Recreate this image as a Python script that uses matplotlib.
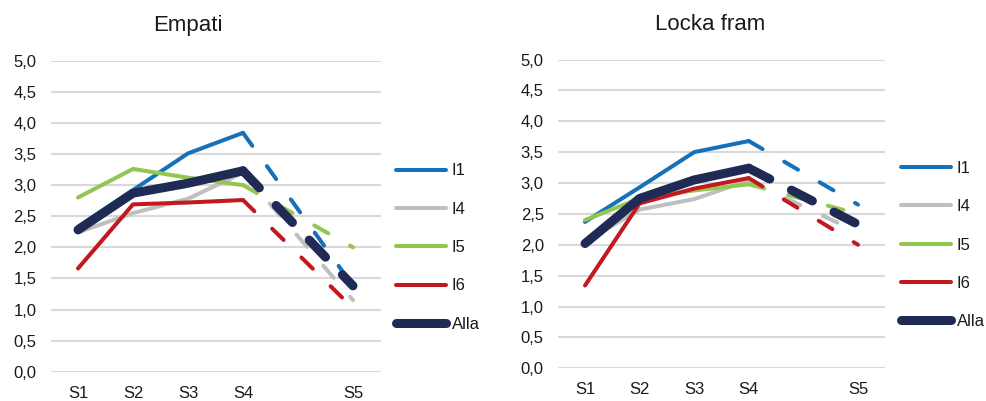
import numpy as np
import matplotlib
matplotlib.use('Agg')
import matplotlib.pyplot as plt

plt.rcParams['font.family'] = ['Liberation Sans', 'DejaVu Sans']
plt.rcParams['lines.scale_dashes'] = False

# categories: S1..S4, one empty slot, S5
categories = ['S1', 'S2', 'S3', 'S4', '', 'S5']
series = ['I1', 'I4', 'I5', 'I6', 'Alla']

# Empati
emp_i1 = [2.33, 2.92, 3.51, 3.84, None, 1.38]
emp_i4 = [2.24, 2.55, 2.78, 3.20, None, 1.15]
emp_i5 = [2.80, 3.26, 3.12, 3.00, None, 2.00]
emp_i6 = [1.66, 2.69, 2.72, 2.76, None, 1.02]
emp_alla = [2.28, 2.87, 3.03, 3.23, None, 1.38]

# Locka fram
loc_i1 = [2.37, 2.93, 3.50, 3.68, None, 2.65]
loc_i4 = [2.05, 2.57, 2.74, 3.04, None, 2.20]
loc_i5 = [2.40, 2.75, 2.88, 2.98, None, 2.50]
loc_i6 = [1.34, 2.67, 2.91, 3.08, None, 2.00]
loc_alla = [2.02, 2.75, 3.05, 3.24, None, 2.33]

colors = ['#1572BA', '#BFBFBF', '#92C651', '#C1191F', '#1F2A55']
widths = [2.9, 2.9, 2.9, 2.9, 6.5]
dashes = [(11.5, 18), (11.5, 18), (11.5, 18), (11.5, 18), (17, 17.5)]

W, H = 986, 401
fig = plt.figure(figsize=(W / 100, H / 100), dpi=100)


def px_axes(x0, x1, y_top, y_bot):
    return fig.add_axes([x0 / W, 1 - y_bot / H, (x1 - x0) / W, (y_bot - y_top) / H])


def draw(ax, data, title, title_x, legend_x, legend_y):
    x = np.arange(len(categories))
    for vals, c, lw, d, name in zip(data, colors, widths, dashes, series):
        # solid S1-S4, dashed S4 -> S5 across the empty slot
        ax.plot(x[:4], vals[:4], color=c, lw=lw, solid_capstyle='round',
                solid_joinstyle='round', label=name, zorder=3)
        ax.plot([x[3], x[5]], [vals[3], vals[5]], color=c, lw=lw,
                dashes=d, dash_capstyle='round', zorder=3)
    ax.set_xlim(-0.5, len(categories) - 0.5)
    ax.set_ylim(0, 5)
    ticks = np.arange(0, 5.01, 0.5)
    ax.set_yticks(ticks)
    ax.set_yticklabels([f'{v:.1f}'.replace('.', ',') for v in ticks])
    ax.set_xticks(x)
    ax.set_xticklabels(categories)
    ax.grid(axis='y', color='#D9D9D9', lw=1.5, zorder=0)
    ax.set_axisbelow(True)
    for s in ax.spines.values():
        s.set_visible(False)
    ax.tick_params(length=0, labelsize=12, colors='#1a1a1a')
    ax.tick_params(axis='y', pad=10)
    ax.tick_params(axis='x', pad=10)
    fig.text(title_x / W, 1 - 25 / H, title, ha='center', va='center',
             fontsize=16, color='#1a1a1a')
    ax.legend(loc='center left', bbox_to_anchor=(legend_x / W, 1 - legend_y / H),
              bbox_transform=fig.transFigure, frameon=False, fontsize=12,
              handlelength=3.0, handletextpad=0.35, labelspacing=1.4,
              borderpad=0, borderaxespad=0, labelcolor='#1a1a1a')


ax1 = px_axes(50.5, 380.5, 60.7, 371.7)
draw(ax1, [emp_i1, emp_i4, emp_i5, emp_i6, emp_alla], 'Empati', 188, 396, 247.5)

ax2 = px_axes(557.7, 885.3, 59.5, 368.3)
draw(ax2, [loc_i1, loc_i4, loc_i5, loc_i6, loc_alla], 'Locka fram', 710, 901, 245)

fig.savefig('out.png', dpi=100)
